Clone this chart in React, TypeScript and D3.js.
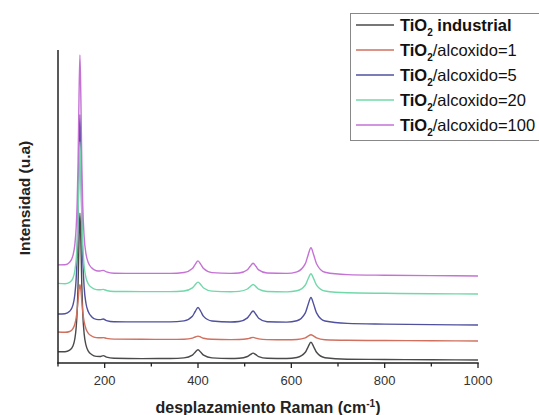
import React from "react";
import * as d3 from "d3";

// Raman shift (cm-1) sampling points
const ramanShift = [
  100, 115, 125, 132, 136, 139, 141, 143, 145, 147, 149, 151, 153, 156, 160, 165, 172, 182, 190, 197, 204, 220,
  280, 340, 370, 388, 394, 400, 406, 412, 430, 470, 488, 506, 512, 518, 524, 530, 548, 590, 612, 630, 636, 642,
  648, 654, 672, 720, 800, 900, 1000,
];

// Intensities (u.a.)
const tio2Industrial = [
  11.3, 11.3, 12.8, 17.0, 24.0, 35.7, 51.0, 78.4, 121.2, 149.7, 121.1, 77.9, 50.1, 29.4, 17.8, 11.9, 8.5, 6.6, 6.5, 7.4, 5.9, 4.8,
  4.4, 4.5, 5.1, 7.9, 10.8, 13.2, 10.7, 7.8, 5.1, 4.5, 4.7, 6.5, 8.3, 9.9, 8.3, 6.4, 4.7, 4.5, 5.5, 10.7, 16.2, 20.7,
  16.2, 10.7, 5.3, 3.8, 3.5, 3.2, 3.0,
];
const alcoxido1 = [
  31.0, 30.7, 31.5, 34.4, 38.8, 45.3, 52.5, 62.3, 73.1, 78.2, 73.1, 61.7, 51.5, 41.3, 34.0, 29.7, 27.0, 25.4, 25.2, 25.4, 24.6, 23.9,
  23.7, 23.6, 23.8, 24.9, 26.0, 26.9, 25.9, 24.8, 23.7, 23.4, 23.5, 24.2, 25.0, 25.6, 24.9, 24.1, 23.4, 23.2, 23.5, 25.1, 26.9, 28.3,
  26.9, 25.1, 23.3, 22.7, 22.5, 22.2, 22.0,
];
const alcoxido5 = [
  49.0, 49.3, 51.7, 57.9, 68.0, 84.8, 106.8, 146.0, 207.4, 248.3, 207.3, 145.5, 105.7, 76.1, 59.5, 51.2, 46.3, 43.6, 43.4, 44.0, 42.4, 41.2,
  41.1, 41.1, 42.1, 46.7, 51.5, 55.5, 51.5, 46.6, 42.0, 41.0, 41.5, 45.1, 48.8, 52.0, 48.8, 44.8, 41.3, 40.9, 42.3, 50.2, 58.6, 65.5,
  58.5, 50.1, 42.0, 39.6, 38.9, 38.4, 38.0,
];
const alcoxido20 = [
  79.6, 79.3, 80.6, 84.8, 92.0, 103.9, 119.7, 147.7, 191.8, 221.0, 191.6, 147.1, 118.6, 97.2, 85.1, 79.0, 75.5, 73.4, 73.2, 73.6, 72.5, 71.5,
  71.4, 71.4, 72.0, 75.1, 78.3, 80.9, 78.3, 75.0, 71.9, 71.2, 71.6, 74.0, 76.4, 78.5, 76.4, 73.8, 71.5, 71.1, 72.2, 78.0, 84.2, 89.2,
  84.1, 77.9, 72.0, 70.2, 69.7, 69.3, 69.0,
];
const alcoxido100 = [
  98.1, 98.3, 100.8, 107.4, 118.1, 135.7, 158.9, 200.2, 265.0, 308.0, 264.8, 199.6, 157.8, 126.5, 109.1, 100.3, 95.2, 92.3, 92.0, 92.6, 91.1, 89.7,
  89.6, 89.6, 90.5, 94.5, 98.7, 102.1, 98.6, 94.4, 90.4, 89.6, 90.0, 93.3, 96.8, 99.7, 96.7, 93.1, 90.0, 89.6, 91.2, 99.4, 108.1, 115.2,
  108.0, 99.3, 90.8, 88.4, 87.8, 87.4, 87.0,
];

const seriesValues = [tio2Industrial, alcoxido1, alcoxido5, alcoxido20, alcoxido100];
const seriesSuffix = [" industrial", "/alcoxido=1", "/alcoxido=5", "/alcoxido=20", "/alcoxido=100"];
const seriesColors = ["#4a4a4a", "#d0705f", "#50509e", "#72d8aa", "#c472d4"];

const xTicks = [100, 200, 300, 400, 500, 600, 700, 800, 900, 1000];
const xTickLabels = [200, 400, 600, 800, 1000];

const W = 539;
const H = 415;
const left = 58;
const right = 478;
const top = 50;
const bottom = 363;

export default function App() {
  const x = d3.scaleLinear().domain([100, 1000]).range([left, right]);
  const y = d3.scaleLinear().domain([0, 313]).range([bottom, top]);
  const line = d3
    .line<number>()
    .x((_, i) => x(ramanShift[i]))
    .y((v) => y(v))
    .curve(d3.curveMonotoneX);

  const font = "'Liberation Sans', Arial, sans-serif";

  return (
    <svg
      width={W}
      height={H}
      viewBox={`0 0 ${W} ${H}`}
      style={{ position: "absolute", left: 0, top: 0, background: "#fff" }}
      fontFamily={font}
    >
      <rect x={0} y={0} width={W} height={H} fill="#fff" />
      {seriesValues.map((vals, k) => (
        <path key={k} d={line(vals) || ""} fill="none" stroke={seriesColors[k]} strokeWidth={1.4} />
      ))}

      {/* axes */}
      <line x1={left} y1={top} x2={left} y2={bottom + 0.5} stroke="#222" strokeWidth={1.5} />
      <line x1={left - 0.75} y1={bottom} x2={right + 0.75} y2={bottom} stroke="#222" strokeWidth={1.5} />
      {xTicks.map((t) => {
        const major = xTickLabels.includes(t);
        return (
          <line
            key={t}
            x1={x(t)}
            x2={x(t)}
            y1={bottom}
            y2={bottom + (major ? 5 : 3.5)}
            stroke="#222"
            strokeWidth={1.3}
          />
        );
      })}
      {xTickLabels.map((t) => (
        <text key={t} x={x(t)} y={385} fontSize={13} textAnchor="middle" fill="#333">
          {t}
        </text>
      ))}

      <text x={(left + right) / 2} y={413} fontSize={16} fontWeight="bold" textAnchor="middle" fill="#222">
        desplazamiento Raman (cm
        <tspan fontSize={10} dy={-6}>-1</tspan>
        <tspan dy={6}>)</tspan>
      </text>
      <text
        transform={`translate(30,198) rotate(-90)`}
        fontSize={15.5}
        fontWeight="bold"
        textAnchor="middle"
        fill="#222"
      >
        Intensidad (u.a)
      </text>

      {/* legend */}
      <rect x={350.5} y={13.5} width={200} height={127} fill="#fff" stroke="#888" strokeWidth={1} />
      {seriesSuffix.map((s, k) => {
        const ry = 25 + 25 * k;
        return (
          <g key={k}>
            <line x1={356} x2={394} y1={ry} y2={ry} stroke={seriesColors[k]} strokeWidth={1.4} />
            <text x={400} y={ry + 6} fontSize={16.5} fill="#111">
              <tspan fontWeight="bold">TiO</tspan>
              <tspan fontWeight="bold" fontSize={10} dy={5}>2</tspan>
              <tspan dy={-5} fontWeight={k === 0 ? "bold" : "normal"}>{s}</tspan>
            </text>
          </g>
        );
      })}
    </svg>
  );
}
